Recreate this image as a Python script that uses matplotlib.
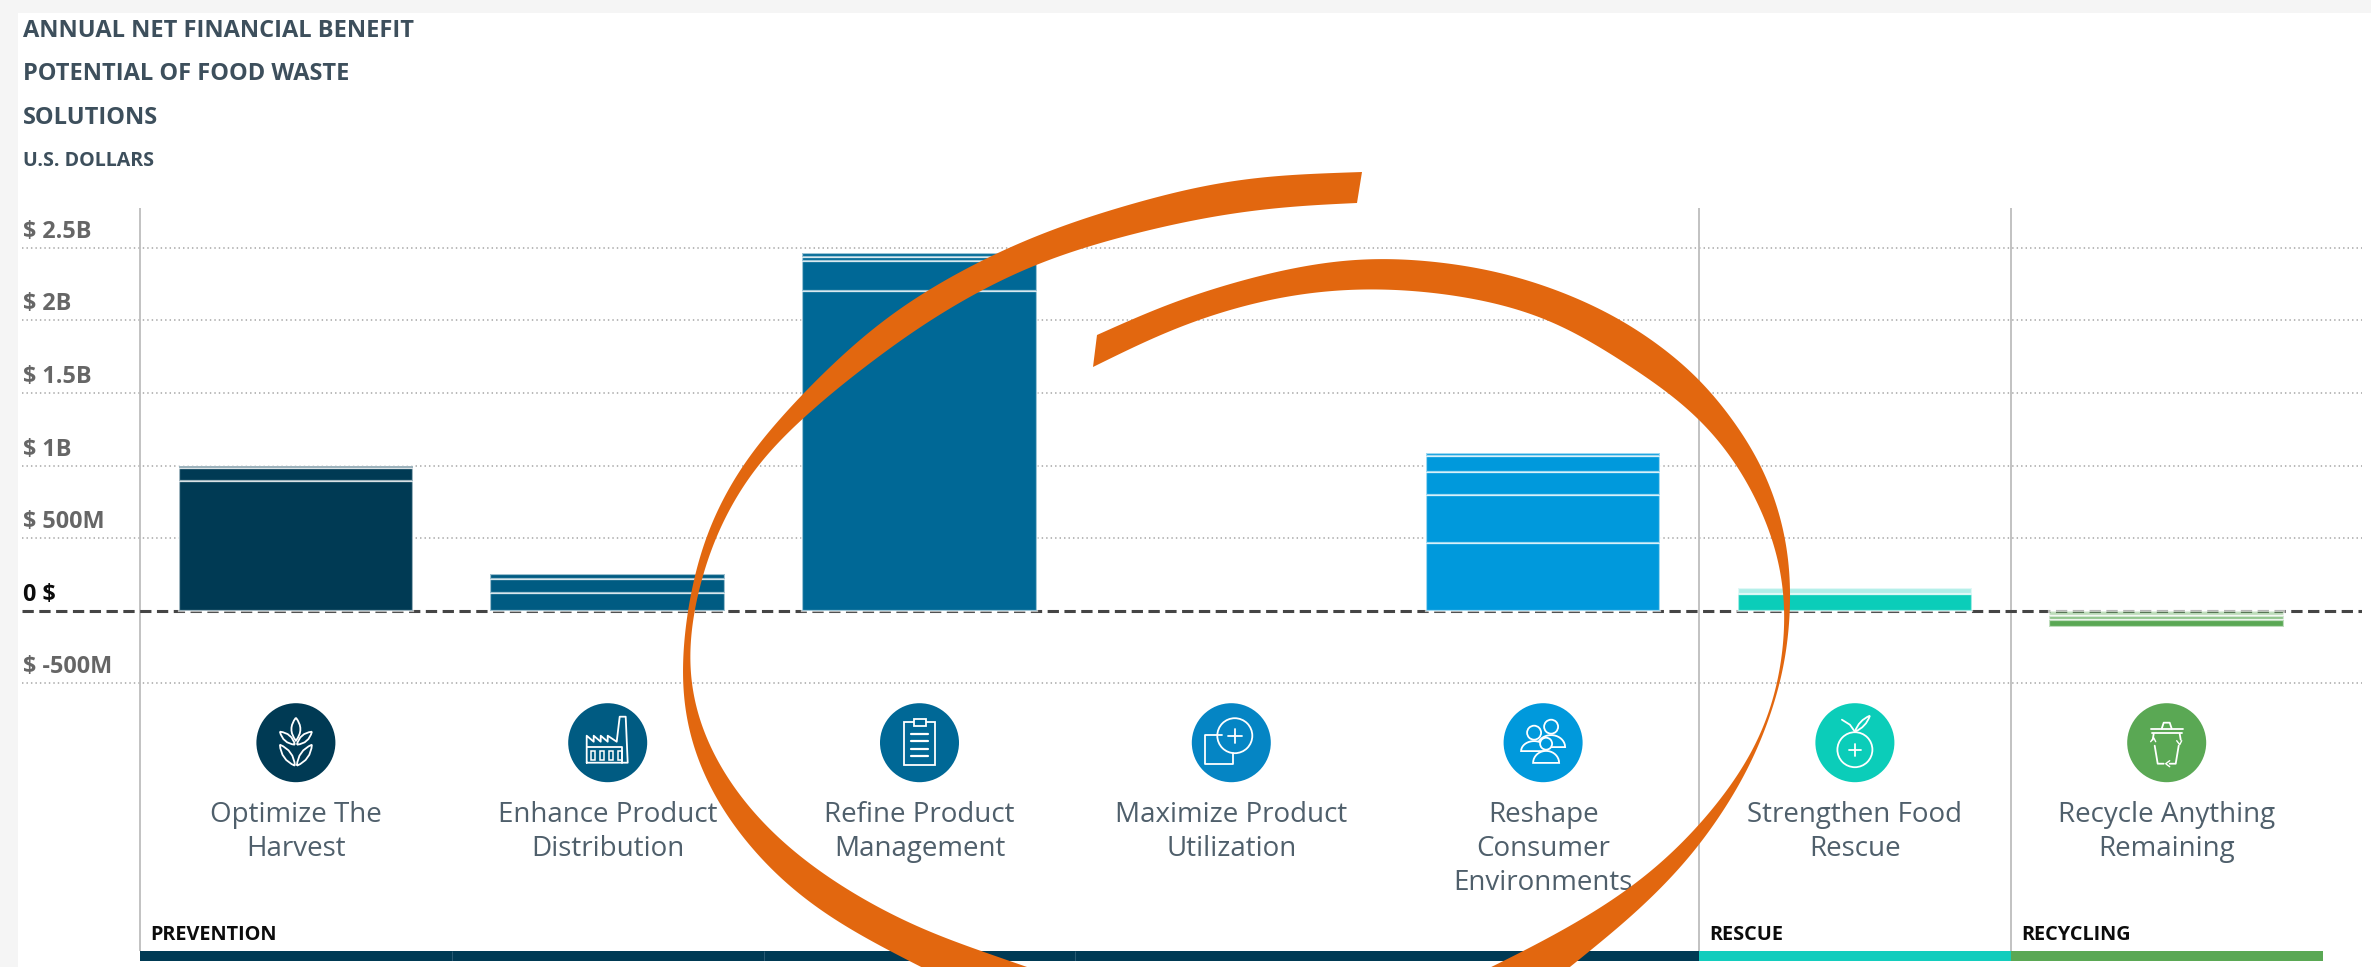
import numpy as np
import matplotlib
matplotlib.use("Agg")
import matplotlib.pyplot as plt
from matplotlib.patches import Rectangle, Circle, Polygon, PathPatch
from matplotlib.path import Path
from matplotlib.transforms import ScaledTranslation

plt.rcParams['font.family'] = ['Open Sans', 'DejaVu Sans']

# ---------- data ----------
categories = ["Optimize The\nHarvest", "Enhance Product\nDistribution", "Refine Product\nManagement",
              "Maximize Product\nUtilization", "Reshape\nConsumer\nEnvironments",
              "Strengthen Food\nRescue", "Recycle Anything\nRemaining"]
# stacked segments in million USD, bottom (closest to zero) first
seg_harvest = [895, 90, 11]
seg_distribution = [120, 98, 35]
seg_management = [2202, 206, 26, 27]
seg_utilization = []
seg_environments = [466, 329, 158, 112, 19]
seg_rescue = [118, 36]
seg_recycle = [-34, -30, -51]
segments = [seg_harvest, seg_distribution, seg_management, seg_utilization,
            seg_environments, seg_rescue, seg_recycle]
# segment opacity (1 = full colour)
alpha_rescue = [1, 0.32]
alpha_recycle = [0.4, 0.7, 1]
bar_colors = ["#003a54", "#005b82", "#006896", "#0585c4", "#0099dc", "#0bcdb9", "#5aa854"]
tick_values = [-500, 0, 500, 1000, 1500, 2000, 2500]
tick_labels = ["$ -500M", "0 $", "$ 500M", "$ 1B", "$ 1.5B", "$ 2B", "$ 2.5B"]
sections = [("PREVENTION", 0, 4, "#003a54"), ("RESCUE", 5, 5, "#12cdbd"), ("RECYCLING", 6, 6, "#5aa854")]
title_lines = ["ANNUAL NET FINANCIAL BENEFIT", "POTENTIAL OF FOOD WASTE", "SOLUTIONS"]
subtitle = "U.S. DOLLARS"

# ---------- layout ----------
W, H = 2371, 967
DPI = 100
PX = 72 / DPI
CAT_W = 311.8
AX_X0 = 140.0
Y0 = 610.7
PX_PER_M = 72.6 / 500
GRID_L, GRID_R = 22, 2362
AX_TOP, AX_BOT = 208, 961
BAND_TOP = 951

fig = plt.figure(figsize=(W / DPI, H / DPI), dpi=DPI, facecolor="#f5f5f5")
fig.add_artist(Rectangle((18 / W, 0), 1, 1 - 13 / H, transform=fig.transFigure, fc="white", ec="none", zorder=-1))

ax = fig.add_axes([GRID_L / W, 1 - AX_BOT / H, (GRID_R - GRID_L) / W, (AX_BOT - AX_TOP) / H])
ax.patch.set_alpha(0)
ax.set_xlim((GRID_L - AX_X0) / CAT_W - 0.5, (GRID_R - AX_X0) / CAT_W - 0.5)
ax.set_ylim((Y0 - AX_BOT) / PX_PER_M, (Y0 - AX_TOP) / PX_PER_M)
for s in ax.spines.values():
    s.set_visible(False)

# grid + zero line
ax.set_yticks(tick_values)
ax.set_yticklabels(tick_labels)
for v in tick_values:
    if v == 0:
        ax.axhline(v, color="#454545", lw=2.2, ls=(0, (3.7, 1.8)), zorder=2)
    else:
        ax.axhline(v, color="#a9a9a9", lw=1.15, ls=(0, (0.9, 1.9)), zorder=1)
band_val = (Y0 - BAND_TOP) / PX_PER_M
ymin_val = ax.get_ylim()[0]
for name, first, last, col in sections:
    ax.vlines(first - 0.5, band_val, ax.get_ylim()[1], color="#bdbdbd", lw=1.3, zorder=1)
    ax.add_patch(Rectangle((first - 0.5, ymin_val), last - first + 1, band_val - ymin_val, fc=col, ec="none", zorder=2))
    ax.annotate(name, xy=(first - 0.5, (Y0 - 940) / PX_PER_M), xytext=(10 * PX, 0), textcoords="offset points",
                fontsize=14.3, fontweight="bold", color="#0c0c0c", ha="left", va="baseline")
for b in range(1, 4):
    ax.vlines(b - 0.5, ymin_val, band_val, color="#2f6078", lw=0.6, zorder=3)

# bars
for i, segs in enumerate(segments):
    bottom = 0
    alphas = {5: alpha_rescue, 6: alpha_recycle}.get(i, [1] * len(segs))
    for val, a in zip(segs, alphas):
        ax.bar(i, val, bottom=bottom, width=0.752,
               color=matplotlib.colors.to_rgba(bar_colors[i], a),
               edgecolor=(1, 1, 1, 0.62), linewidth=1.6, zorder=3)
        bottom += val

# tick labels
ax.tick_params(axis="y", length=0, pad=0, labelsize=16.8, labelcolor="#666666")
offset = ScaledTranslation(1 * PX / 72, 10 * PX / 72, fig.dpi_scale_trans)
for tick, v in zip(ax.yaxis.get_major_ticks(), tick_values):
    lab = tick.label1
    lab.set_horizontalalignment("left")
    lab.set_verticalalignment("baseline")
    lab.set_fontweight("bold")
    lab.set_transform(lab.get_transform() + offset)
    if v == 0:
        lab.set_color("#0c0c0c")

ax.set_xticks(range(len(categories)))
ax.set_xticklabels(categories)
ax.tick_params(axis="x", length=0, pad=-(AX_BOT - 801) * PX, labelsize=20.0, labelcolor="#4f5f6b")
for lab in ax.get_xticklabels():
    lab.set_verticalalignment("top")
    lab.set_linespacing(1.28)

# titles
for txt, base in zip(title_lines, [37, 80, 124]):
    fig.text(23 / W, 1 - base / H, txt, fontsize=17.05, fontweight="bold", color="#3d4f5c", va="baseline")
fig.text(23 / W, 1 - 166 / H, subtitle, fontsize=14.1, fontweight="bold", color="#3d4f5c", va="baseline")

# ---------- overlay in pixel coordinates ----------
art = fig.add_axes([0, 0, 1, 1], zorder=5)
art.set_xlim(0, W)
art.set_ylim(H, 0)
art.axis("off")
art.patch.set_alpha(0)

ILW = 1.3


def stroke(cx, cy, pts, lw=ILW, closed=False):
    p = np.asarray(pts, float)
    if closed:
        p = np.vstack([p, p[0]])
    art.plot(cx + p[:, 0], cy + p[:, 1], color="white", lw=lw, solid_capstyle="round", solid_joinstyle="round", zorder=7)


def ring(cx, cy, x, y, r, fc="none"):
    art.add_patch(Circle((cx + x, cy + y), r, fc=fc, ec="white", lw=ILW, zorder=7))


def leaf(cx, cy, p0, p1, bulge):
    p0, p1 = np.array(p0, float), np.array(p1, float)
    n = np.array([-(p1 - p0)[1], (p1 - p0)[0]])
    n = n / np.hypot(*n) * bulge
    m = (p0 + p1) / 2
    verts = [p0, m + n, p1, m - n, p0]
    codes = [Path.MOVETO, Path.CURVE3, Path.CURVE3, Path.CURVE3, Path.CURVE3]
    verts = [v + np.array([cx, cy]) for v in verts]
    art.add_patch(PathPatch(Path(verts, codes), fc="none", ec="white", lw=ILW, zorder=7))


def icon_wheat(cx, cy):
    leaf(cx, cy, (0, -25), (0, -2), 9)
    for sx in (-1, 1):
        leaf(cx, cy, (sx * 1, 2), (sx * 16, -11), 7)
        leaf(cx, cy, (sx * 1, 23), (sx * 16, 2), 8)


def icon_factory(cx, cy):
    stroke(cx, cy, [(-21, 20), (-21, -7), (-14, -1), (-14, -7), (-7, -1), (-7, -7), (0, -1), (0, -7), (9, -1),
                    (12, -26), (18, -26), (20, 20)], closed=True)
    stroke(cx, cy, [(-21, 4), (14, 4), (14, 20)])
    for x in (-15, -6, 3, 12):
        art.add_patch(Rectangle((cx + x - 2, cy + 8), 4, 9, fc="none", ec="white", lw=1.1, zorder=7))


def icon_clipboard(cx, cy):
    art.add_patch(Rectangle((cx - 15.5, cy - 21), 31, 43, fc="none", ec="white", lw=ILW, zorder=7))
    art.add_patch(Rectangle((cx - 6, cy - 23.5), 12, 7, fc="#006896", ec="white", lw=ILW, zorder=7))
    for y in (-9, -2, 6, 13):
        stroke(cx, cy, [(-8.5, y), (8.5, y)], lw=1.6)


def icon_maximize(cx, cy):
    stroke(cx, cy, [(-9, -8), (-26, -8), (-26, 21), (2, 21), (2, 10)])
    ring(cx, cy, 3.5, -7, 17.5)
    stroke(cx, cy, [(3.5, -14), (3.5, 0)])
    stroke(cx, cy, [(-3.5, -7), (10.5, -7)])


def person(cx, cy, x, y, head, hw, h, fc="none"):
    t = np.linspace(np.pi, 0, 20)
    body = np.column_stack([x + hw * np.cos(t), y + head * 1.2 + h - h * np.sin(t)])
    art.fill(cx + body[:, 0], cy + body[:, 1], fc=fc, ec="white", lw=ILW, zorder=7)
    art.add_patch(Circle((cx + x, cy + y), head, fc=fc, ec="white", lw=ILW, zorder=7))


def icon_people(cx, cy, col):
    person(cx, cy, 8, -16, 7, 14, 12, fc=col)
    person(cx, cy, -9, -10, 7, 13, 10, fc=col)
    person(cx, cy, 3, 1, 6, 13, 12, fc=col)


def icon_fruit(cx, cy):
    ring(cx, cy, 0, 7, 17.5)
    stroke(cx, cy, [(0, 1), (0, 13)])
    stroke(cx, cy, [(-6, 7), (6, 7)])
    leaf(cx, cy, (0, -11), (15, -27), 5)
    stroke(cx, cy, [(0, -11), (-5, -18), (-13, -23)])


def icon_trash(cx, cy):
    stroke(cx, cy, [(-16, -14), (16, -14)])
    stroke(cx, cy, [(-15, -10), (15, -10)])
    stroke(cx, cy, [(-5, -14), (-3, -20), (3, -20), (5, -14)])
    stroke(cx, cy, [(-13, -9), (-14, -3)])
    stroke(cx, cy, [(-12, 3), (-9, 21), (-3, 21)])
    stroke(cx, cy, [(3, 21), (9, 21), (12, 3)])
    stroke(cx, cy, [(14, -3), (13, -9)])
    stroke(cx, cy, [(-16, -1), (-13, -5), (-11, -1)], lw=1.0)
    stroke(cx, cy, [(10, -2), (13, 2), (15, -2)], lw=1.0)
    stroke(cx, cy, [(3, 18), (-1, 21), (3, 24)], lw=1.0)


icon_funcs = [icon_wheat, icon_factory, icon_clipboard, icon_maximize,
              lambda a, b: icon_people(a, b, bar_colors[4]), icon_fruit, icon_trash]
for i, (col, fn) in enumerate(zip(bar_colors, icon_funcs)):
    cx, cy = AX_X0 + CAT_W * (i + 0.5), 742.7
    art.add_patch(Circle((cx, cy), 39.5, fc=col, ec="none", zorder=6))
    fn(cx, cy)


# ---------- orange swoosh annotation ----------
def smooth(pts, step=3.0, sigma=42.0):
    """Resample an edge evenly along its length and low-pass it, keeping both ends fixed."""
    P = np.asarray(pts, float)
    s = np.r_[0, np.cumsum(np.hypot(*np.diff(P, axis=0).T))]
    t = np.arange(0, s[-1] + step, step)
    t[-1] = s[-1]
    Q = np.column_stack([np.interp(t, s, P[:, 0]), np.interp(t, s, P[:, 1])])
    r = int(3 * sigma / step)
    kernel = np.exp(-0.5 * (np.arange(-r, r + 1) * step / sigma) ** 2)
    kernel /= kernel.sum()
    # odd reflection around the ends keeps the end points in place
    head = 2 * Q[0] - Q[r:0:-1]
    tail = 2 * Q[-1] - Q[-2:-r - 2:-1]
    E = np.vstack([head, Q, tail])
    return np.column_stack([np.convolve(E[:, k], kernel, mode="valid") for k in (0, 1)])


left_outer = [(1362, 172), (1267, 175), (1200, 185), (1133, 203), (1067, 223), (1000, 250), (923, 291), (868, 330),
              (803, 392), (740, 463), (702, 537), (686, 610), (680, 667), (681, 710), (691, 750), (713, 800),
              (750, 850), (793, 893), (843, 927), (893, 953), (937, 975)]
left_inner = [(1050, 975), (993, 955), (927, 933), (867, 903), (810, 867), (763, 827), (727, 783), (703, 740),
              (690, 700), (685, 660), (692, 610), (712, 537), (754, 463), (825, 397), (913, 330),
              (977, 291), (1037, 262), (1100, 242), (1167, 225), (1233, 212), (1300, 205), (1357, 203)]
right_outer = [(1097, 335), (1167, 303), (1233, 282), (1300, 265), (1367, 256), (1433, 260), (1500, 270), (1567, 292),
               (1627, 320), (1702, 376), (1765, 463), (1789, 538), (1793, 583), (1791, 617), (1787, 670),
               (1773, 710), (1757, 757), (1730, 803), (1693, 857), (1633, 917), (1587, 953), (1560, 975)]
right_inner = [(1475, 975), (1533, 947), (1600, 910), (1653, 873), (1700, 827), (1747, 767), (1769, 723), (1781, 680),
               (1788, 617), (1786, 583), (1776, 538), (1741, 465), (1702, 417), (1672, 393), (1560, 321), (1500, 302),
               (1433, 291), (1367, 287), (1300, 292), (1233, 307), (1167, 330), (1093, 367)]
for outer, inner in ((left_outer, left_inner), (right_outer, right_inner)):
    art.add_patch(Polygon(np.vstack([smooth(outer), smooth(inner)]), closed=True, fc="#e2670f", ec="none", zorder=9))

fig.savefig("out.png", dpi=DPI, facecolor=fig.get_facecolor())
